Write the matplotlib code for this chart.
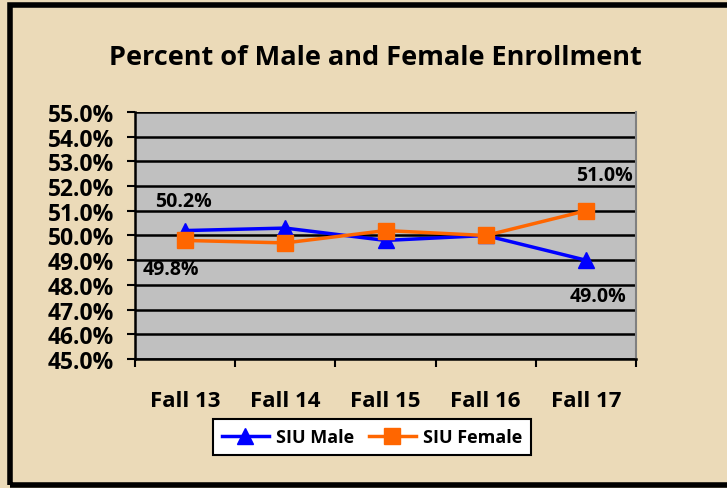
import numpy as np
import matplotlib.pyplot as plt
from matplotlib.patches import Rectangle
from matplotlib.ticker import FuncFormatter

terms = ['Fall 13', 'Fall 14', 'Fall 15', 'Fall 16', 'Fall 17']
male = [50.2, 50.3, 49.8, 50.0, 49.0]
female = [49.8, 49.7, 50.2, 50.0, 51.0]

plt.rcParams['font.family'] = ['Open Sans', 'DejaVu Sans']
plt.rcParams['font.weight'] = 'bold'

bg = '#ebdab8'
fig = plt.figure(figsize=(7.27, 4.89), dpi=100, facecolor=bg)
ax = fig.add_axes([135/727, 1 - 360/489, 501/727, 247/489])
ax.set_facecolor('#c0c0c0')

x = np.arange(len(terms))
ax.plot(x, male, color='#0000ff', lw=2.5, marker='^', ms=11.5, label='SIU Male', zorder=3)
ax.plot(x, female, color='#ff6600', lw=2.5, marker='s', ms=11.5, label='SIU Female', zorder=4)

ax.set_xlim(-0.5, 4.5)
ax.set_ylim(45, 55)
ax.set_yticks(np.arange(45, 55.1, 1))
ax.yaxis.set_major_formatter(FuncFormatter(lambda v, p: f'{v:.1f}%'))
ax.yaxis.grid(True, color='black', lw=1.8)
ax.set_axisbelow(True)
ax.set_xticks(x)
ax.set_xticklabels(terms)
ax.set_xticks(np.arange(-0.5, 4.6, 1), minor=True)
ax.tick_params(axis='x', which='major', length=0, pad=22, labelsize=16)
ax.tick_params(axis='x', which='minor', length=6, width=1.5, direction='out')
ax.tick_params(axis='y', length=6, width=1.5, labelsize=16.5, pad=9)
for lbl in ax.get_xticklabels() + ax.get_yticklabels():
    lbl.set_fontweight('bold')

for s in ['left', 'bottom']:
    ax.spines[s].set_linewidth(1.8)
    ax.spines[s].set_color('black')
ax.spines['top'].set_visible(False)
ax.spines['right'].set_color('#808080')
ax.spines['right'].set_linewidth(1.5)

# data labels
lab = dict(textcoords='offset points', ha='center', va='center', fontsize=14, fontweight='bold')
ax.annotate(f'{male[0]:.1f}%', (x[0], male[0]), xytext=(-1, 21.5), **lab)
ax.annotate(f'{female[0]:.1f}%', (x[0], female[0]), xytext=(-10, -20.5), **lab)
ax.annotate(f'{female[4]:.1f}%', (x[4], female[4]), xytext=(13, 26), **lab)
ax.annotate(f'{male[4]:.1f}%', (x[4], male[4]), xytext=(9, -26), **lab)

fig.text(375/727, 1 - 58/489, 'Percent of Male and Female Enrollment', ha='center', va='center',
         fontsize=19.5, fontweight='bold')

leg = fig.legend(loc='center', bbox_to_anchor=(372/727, 1 - 438/489), ncol=2, frameon=True,
                 fancybox=False, edgecolor='black', framealpha=1, fontsize=13,
                 handlelength=2.6, columnspacing=0.8, handletextpad=0.4, borderpad=0.5)
leg.get_frame().set_linewidth(1.5)
for t in leg.get_texts():
    t.set_fontweight('bold')

# outer border
fig.patches.append(Rectangle((10/727, 1 - 486/489), 730/727, 480/489, transform=fig.transFigure,
                             fill=False, edgecolor='black', lw=4))

fig.savefig('out.png', dpi=100, facecolor=bg)
